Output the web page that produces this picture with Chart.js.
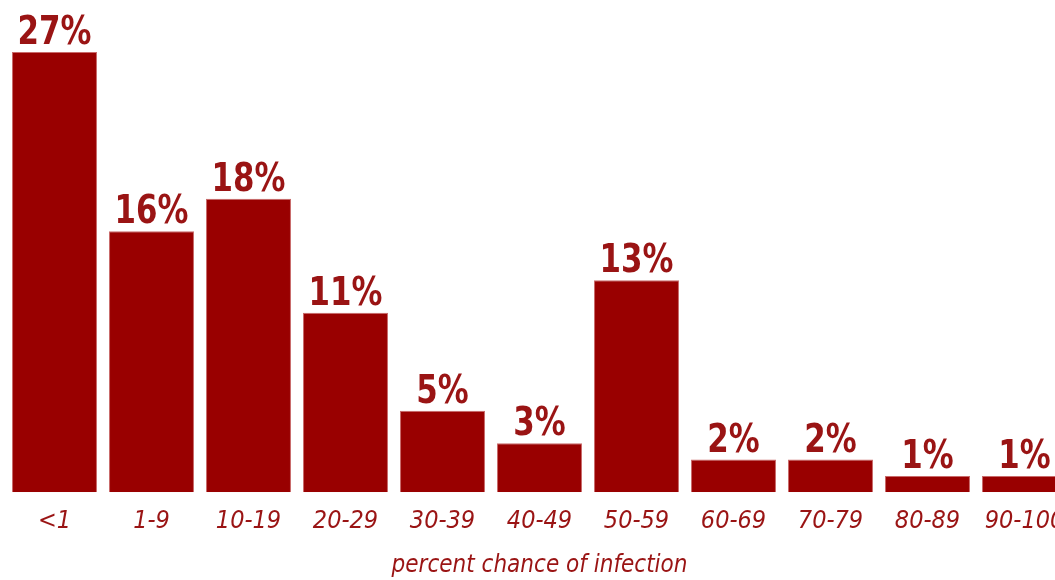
<!DOCTYPE html>
<html lang="en">
<head>
    <meta charset="UTF-8">
    <title>Infection chance</title>
    <script src="https://cdn.jsdelivr.net/npm/chart.js@4.4.0/dist/chart.umd.min.js"></script>
    <style>
        html, body {
            margin: 0;
            padding: 0;
            background: white;
            overflow: hidden;
        }
        #wrap {
            width: 1080px;
            height: 580px;
        }
    </style>
</head>
<body>
    <div id="wrap">
        <canvas id="myChart" width="1080" height="580"></canvas>
    </div>

    <script>
        const categories = ["<1", "1-9", "10-19", "20-29", "30-39", "40-49", "50-59", "60-69", "70-79", "80-89", "90-100"];
        const shares = [27, 16, 18, 11, 5, 3, 13, 2, 2, 1, 1];
        const axisTitle = "percent chance of infection";

        const condensed = "'DejaVu Sans Condensed', 'Liberation Sans Narrow', 'Roboto', sans-serif";
        const darkRed = "#990000";
        const textRed = "#9a1414";

        // value labels above each bar, squeezed a bit to look condensed
        const barLabels = {
            id: "barLabels",
            afterDatasetsDraw(chart) {
                const ctx = chart.ctx;
                const meta = chart.getDatasetMeta(0);
                meta.data.forEach((bar, i) => {
                    ctx.save();
                    ctx.translate(bar.x, bar.y - 8);
                    ctx.scale(0.88, 1);
                    ctx.font = "bold 39px " + condensed;
                    ctx.fillStyle = textRed;
                    ctx.textAlign = "center";
                    ctx.textBaseline = "alphabetic";
                    ctx.fillText(shares[i] + "%", 0, 0);
                    ctx.restore();
                });
            }
        };

        new Chart("myChart", {
            type: "bar",
            data: {
                labels: categories,
                datasets: [{
                    data: shares,
                    backgroundColor: darkRed,
                    borderColor: "#c96a6a",
                    borderWidth: 1,
                    barPercentage: 0.876,
                    categoryPercentage: 1
                }]
            },
            options: {
                responsive: false,
                animation: false,
                layout: {
                    padding: {left: 6, right: 7, top: 3, bottom: 0}
                },
                plugins: {
                    legend: {display: false},
                    tooltip: {enabled: false}
                },
                scales: {
                    y: {
                        display: false,
                        min: 0,
                        max: 30
                    },
                    x: {
                        grid: {display: false},
                        border: {display: false},
                        ticks: {
                            color: textRed,
                            padding: 6,
                            maxRotation: 0,
                            autoSkip: false,
                            font: {family: condensed, size: 25, style: "italic"}
                        },
                        title: {
                            display: true,
                            text: axisTitle,
                            color: textRed,
                            padding: {top: 9, bottom: 0},
                            font: {family: condensed, size: 24, style: "italic"}
                        }
                    }
                }
            },
            plugins: [barLabels]
        });
    </script>
</body>
</html>
